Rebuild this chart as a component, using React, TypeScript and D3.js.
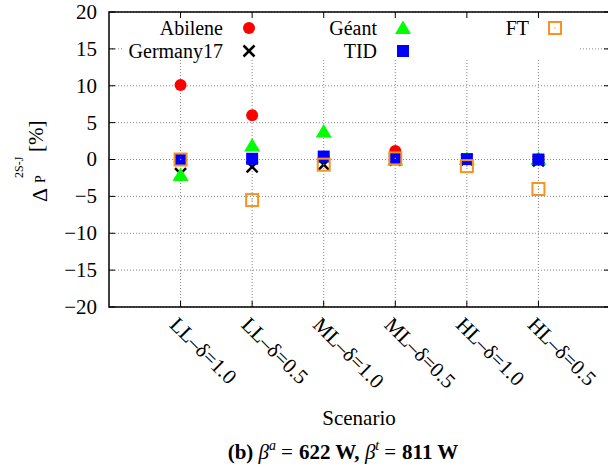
import React from "react";
import * as d3 from "d3";

// scenarios on the x axis
const categories = ["LL–δ=1.0", "LL–δ=0.5", "ML–δ=1.0", "ML–δ=0.5", "HL–δ=1.0", "HL–δ=0.5"];

// Δ_P values in percent
const abilene = [10.1, 6.0, 0.3, 1.15, 0.05, 0.0];
const germany17 = [-1.9, -1.0, -0.7, -0.1, 0.0, -0.2];
const geant = [-2.1, 1.9, 3.8, 0.0, 0.1, 0.1];
const tid = [0.0, 0.1, 0.4, 0.15, 0.05, 0.0];
const ft = [0.0, -5.5, -0.7, 0.15, -0.9, -4.0];

const yTicks = [-20, -15, -10, -5, 0, 5, 10, 15, 20];

const serif = "Liberation Serif, Times New Roman, serif";

function Marker(props: { kind: string; x: number; y: number }) {
  const { kind, x, y } = props;
  if (kind === "circle") return <circle cx={x} cy={y} r={6} fill="#ff0000" />;
  if (kind === "cross")
    return (
      <g stroke="#000" strokeWidth={2.5}>
        <line x1={x - 5.5} y1={y - 5.5} x2={x + 5.5} y2={y + 5.5} />
        <line x1={x - 5.5} y1={y + 5.5} x2={x + 5.5} y2={y - 5.5} />
      </g>
    );
  if (kind === "triangle")
    return <path d={`M${x},${y - 7.5}L${x + 8},${y + 6}L${x - 8},${y + 6}Z`} fill="#00ff00" />;
  if (kind === "square") return <rect x={x - 6} y={y - 6} width={12} height={12} fill="#0000ff" />;
  // open square with a dot
  return (
    <g>
      <rect x={x - 6} y={y - 6} width={12} height={12} fill="none" stroke="#f7931e" strokeWidth={2} />
      <rect x={x - 0.6} y={y - 0.6} width={1.2} height={1.2} fill="#f7931e" />
    </g>
  );
}

export default function App() {
  const left = 109;
  const right = 610;
  const top = 12;
  const bottom = 307;

  const y = d3.scaleLinear().domain([-20, 20]).range([bottom, top]);
  const x = d3
    .scaleLinear()
    .domain([0, categories.length + 1])
    .range([left, right]);

  const series = [
    { name: "Abilene", values: abilene, kind: "circle", lx: 223, ly: 35 },
    { name: "Germany17", values: germany17, kind: "cross", lx: 223, ly: 58 },
    { name: "Géant", values: geant, kind: "triangle", lx: 377, ly: 35 },
    { name: "TID", values: tid, kind: "square", lx: 377, ly: 58 },
    { name: "FT", values: ft, kind: "open", lx: 529, ly: 35 },
  ];

  return (
    <svg
      width={608}
      height={470}
      style={{ position: "absolute", left: 0, top: 0, background: "#fff", fontFamily: serif }}
    >
      {/* grid */}
      <g stroke="#888" strokeWidth={1} strokeDasharray="1,2">
        {yTicks.map((t) => (
          <line key={"gy" + t} x1={left} x2={right} y1={y(t)} y2={y(t)} />
        ))}
        {categories.map((c, i) => (
          <line key={"gx" + c} x1={x(i + 1)} x2={x(i + 1)} y1={top} y2={bottom} />
        ))}
      </g>

      {/* opaque key box */}
      <rect x={122} y={13} width={457} height={47} fill="#fff" />

      {/* ticks */}
      <g stroke="#000" strokeWidth={1}>
        {yTicks.map((t) => (
          <g key={"ty" + t}>
            <line x1={left} x2={left + 6} y1={y(t)} y2={y(t)} />
            <line x1={right - 6} x2={right} y1={y(t)} y2={y(t)} />
          </g>
        ))}
        {categories.map((c, i) => (
          <g key={"tx" + c}>
            <line x1={x(i + 1)} x2={x(i + 1)} y1={bottom} y2={bottom - 6} />
            <line x1={x(i + 1)} x2={x(i + 1)} y1={top} y2={top + 6} />
          </g>
        ))}
      </g>

      {/* border */}
      <rect x={left} y={top} width={right - left} height={bottom - top} fill="none" stroke="#000" strokeWidth={1.5} />

      {/* y tick labels */}
      <g fontSize={21} textAnchor="end" style={{ fontFamily: serif }}>
        {yTicks.map((t) => (
          <text key={"yl" + t} x={97} y={y(t)} dy="0.33em">
            {t < 0 ? "−" + Math.abs(t) : t}
          </text>
        ))}
      </g>

      {/* x tick labels */}
      <g fontSize={21} style={{ fontFamily: serif }}>
        {categories.map((c, i) => (
          <text key={"xl" + c} transform={`translate(${x(i + 1) - 12},326) rotate(45)`}>
            {c}
          </text>
        ))}
      </g>

      {/* points */}
      {series.map((s) =>
        s.values.map((v, i) => <Marker key={s.name + i} kind={s.kind} x={x(i + 1)} y={y(v)} />)
      )}

      {/* legend */}
      {series.map((s) => (
        <g key={"lg" + s.name}>
          <text x={s.lx} y={s.ly} fontSize={20} textAnchor="end" style={{ fontFamily: serif }}>
            {s.name}
          </text>
          <Marker kind={s.kind} x={s.lx + 26} y={s.ly - 7} />
        </g>
      ))}

      {/* y axis title */}
      <g transform="translate(47,202) rotate(-90)" style={{ fontFamily: serif }}>
        <text x={0} y={0} fontSize={22}>Δ</text>
        <text x={19} y={-2} fontSize={14}>P</text>
        <text x={24} y={-24} fontSize={12}>2S-J</text>
        <text x={50} y={-4} fontSize={21}>[%]</text>
      </g>

      {/* x axis title */}
      <text x={359} y={425} fontSize={21} textAnchor="middle" style={{ fontFamily: serif }}>
        Scenario
      </text>

      {/* caption */}
      <text x={343} y={459} fontSize={21} textAnchor="middle" style={{ fontFamily: serif }}>
        <tspan fontWeight="bold">(b) </tspan>
        <tspan fontStyle="italic">β</tspan>
        <tspan fontStyle="italic" fontSize={14} dy={-9}>a</tspan>
        <tspan dy={9} dx={5}>=</tspan>
        <tspan fontWeight="bold" dx={6}>622 W, </tspan>
        <tspan fontStyle="italic">β</tspan>
        <tspan fontStyle="italic" fontSize={14} dy={-9}>t</tspan>
        <tspan dy={9} dx={5}>=</tspan>
        <tspan fontWeight="bold" dx={6}>811 W</tspan>
      </text>
    </svg>
  );
}
